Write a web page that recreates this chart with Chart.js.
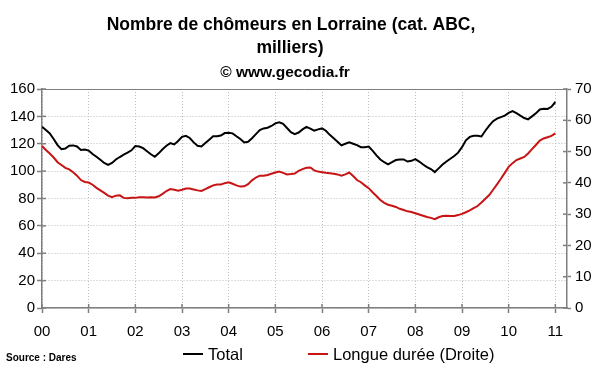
<!DOCTYPE html>
<html>
<head>
<meta charset="utf-8">
<script src="https://cdn.jsdelivr.net/npm/chart.js@4.4.0/dist/chart.umd.min.js"></script>
<style>
  html, body { margin: 0; padding: 0; background: #fff; }
  canvas { display: block; }
</style>
</head>
<body>
<canvas id="chart" width="600" height="372"></canvas>
<script>
// ===== DATA =====
const yearLabels = ["00", "01", "02", "03", "04", "05", "06", "07", "08", "09", "10", "11"];

// Total (milliers, axe gauche), mensuel janv. 2000 -> janv. 2011
const total = [
  132.4, 130, 127.5, 123.5, 119, 116, 116.5, 118.5, 118.8, 118, 115.5, 115.8,
  115, 112.5, 110.5, 108.3, 106, 104.5, 106, 108.5, 110.3, 112, 113.5, 115.2,
  118.3, 118, 116.8, 114.5, 112.3, 110.5, 113, 116, 118.5, 120.5, 119.5, 122,
  125, 125.8, 124.2, 121, 118.5, 118, 120.5, 123, 125.5, 125.5, 126, 127.8,
  128, 127.6, 125.5, 123.5, 121, 121.5, 124, 127, 130, 131.2, 131.7, 133,
  134.9, 135.6, 134.5, 131.5, 128.5, 127, 128.2, 130.5, 132.3, 131, 129.5, 130.5,
  131.2, 129.5, 126.5, 124, 121.5, 118.8, 120, 121, 120, 119, 117.5, 117.5,
  117.9, 115, 111.5, 108.5, 106.5, 105, 106.5, 108.1, 108.5, 108.5, 107, 107.5,
  108.8, 107, 104.8, 103, 101.5, 99.3, 102, 104.8, 107, 109, 111, 113.5,
  117.5, 122.5, 125, 125.8, 125.8, 125.3, 129.5, 133.2, 136.5, 138.3, 139.5, 140.5,
  142.5, 143.9, 142.3, 140.5, 138.8, 137.8, 140, 142.2, 145, 145.5, 145.4, 147,
  150.5
];

// Longue durée (milliers, axe droit)
const longueDuree = [
  51.8, 50.5, 49.4, 48.1, 46.6, 45.7, 44.8, 44.3, 43.4, 42.3, 40.9, 40.3,
  40.1, 39.4, 38.4, 37.6, 36.8, 35.9, 35.4, 35.9, 36.0, 35.2, 35.1, 35.2,
  35.2, 35.4, 35.4, 35.3, 35.4, 35.3, 35.7, 36.5, 37.4, 38.0, 37.8, 37.5,
  37.8, 38.2, 38.2, 37.9, 37.6, 37.4, 38.0, 38.6, 39.2, 39.5, 39.5, 39.9,
  40.2, 39.7, 39.2, 38.8, 38.9, 39.6, 40.8, 41.7, 42.3, 42.3, 42.5, 42.9,
  43.3, 43.6, 43.2, 42.7, 42.8, 43.0, 43.8, 44.4, 44.8, 44.9, 44.0, 43.6,
  43.4, 43.2, 43.1, 42.9, 42.7, 42.3, 42.7, 43.3, 42.2, 40.9, 40.2, 39.2,
  38.3, 37.0, 35.8, 34.5, 33.6, 33.0, 32.7, 32.3, 31.7, 31.3, 30.9, 30.7,
  30.3, 29.9, 29.5, 29.1, 28.8, 28.4, 29.0, 29.4, 29.5, 29.4, 29.4, 29.7,
  30.1, 30.6, 31.2, 31.9, 32.6, 33.7, 34.9, 36.1, 37.8, 39.5, 41.3, 43.2,
  45.1, 46.3, 47.3, 47.8, 48.3, 49.4, 50.8, 52.1, 53.5, 54.2, 54.6, 55.0,
  55.8
];

const titleLines = ["Nombre de chômeurs en Lorraine (cat. ABC,", "milliers)"];
const subtitleText = "© www.gecodia.fr";
const sourceText = "Source : Dares";
const seriesLabels = ["Total", "Longue durée (Droite)"];

const FONT = '"Liberation Sans", Arial, sans-serif';
const AXIS_COLOR = "#7f7f7f";
const GRID_COLOR = "#bdbdbd";

// ===== TEXTES + LEGENDE =====
const textPlugin = {
  id: "texts",
  afterDraw(chart) {
    const ctx = chart.ctx;
    const area = chart.chartArea;
    ctx.save();

    // cadre du haut
    ctx.strokeStyle = AXIS_COLOR;
    ctx.lineWidth = 1;
    ctx.beginPath();
    ctx.moveTo(area.left, area.top + 0.5);
    ctx.lineTo(area.right, area.top + 0.5);
    ctx.stroke();

    // petits traits vers l'intérieur (graduations en croix)
    ctx.lineWidth = 1.5;
    chart.scales.x.ticks.forEach(t => {
      const px = chart.scales.x.getPixelForValue(t.value);
      ctx.beginPath();
      ctx.moveTo(px, area.bottom);
      ctx.lineTo(px, area.bottom - 4);
      ctx.stroke();
    });
    chart.scales.y.ticks.forEach(t => {
      const py = chart.scales.y.getPixelForValue(t.value);
      ctx.beginPath();
      ctx.moveTo(area.left, py);
      ctx.lineTo(area.left + 4, py);
      ctx.stroke();
    });
    chart.scales.y1.ticks.forEach(t => {
      const py = chart.scales.y1.getPixelForValue(t.value);
      ctx.beginPath();
      ctx.moveTo(area.right, py);
      ctx.lineTo(area.right - 4, py);
      ctx.stroke();
    });

    ctx.fillStyle = "#000";
    ctx.textAlign = "center";
    ctx.textBaseline = "alphabetic";
    ctx.font = "bold 17.5px " + FONT;
    ctx.fillText(titleLines[0], 291, 30);
    ctx.fillText(titleLines[1], 290, 53);
    ctx.font = "bold 15.5px " + FONT;
    ctx.fillText(subtitleText, 285, 77);

    ctx.textAlign = "left";
    ctx.font = "bold 10px " + FONT;
    ctx.fillText(sourceText, 6, 361);

    // légende
    const legendX = [183, 308];
    ctx.font = "16.5px " + FONT;
    chart.data.datasets.forEach((ds, i) => {
      const x = legendX[i];
      ctx.strokeStyle = ds.borderColor;
      ctx.lineWidth = 2;
      ctx.beginPath();
      ctx.moveTo(x, 354);
      ctx.lineTo(x + 20, 354);
      ctx.stroke();
      ctx.fillStyle = "#000";
      ctx.fillText(ds.label, x + 25, 360);
    });
    ctx.restore();
  }
};

// ===== CHART =====
const ctx = document.getElementById("chart").getContext("2d");
new Chart(ctx, {
  type: "line",
  data: {
    datasets: [
      {
        label: seriesLabels[0],
        data: total.map((v, i) => ({ x: i, y: v })),
        borderColor: "#000000",
        borderWidth: 2,
        yAxisID: "y"
      },
      {
        label: seriesLabels[1],
        data: longueDuree.map((v, i) => ({ x: i, y: v })),
        borderColor: "#c81414",
        borderWidth: 2,
        yAxisID: "y1"
      }
    ]
  },
  options: {
    responsive: false,
    animation: false,
    devicePixelRatio: 1,
    layout: { padding: { top: 89, left: 0, right: 0, bottom: 0 } },
    elements: { point: { radius: 0 }, line: { tension: 0 } },
    plugins: {
      legend: { display: false },
      title: { display: false },
      tooltip: { enabled: false }
    },
    scales: {
      x: {
        type: "linear",
        min: 0,
        max: 135,
        ticks: {
          stepSize: 12,
          includeBounds: false,
          autoSkip: false,
          maxRotation: 0,
          padding: 10,
          color: "#000",
          font: { family: FONT, size: 15 },
          callback: v => yearLabels[v / 12]
        },
        grid: { color: GRID_COLOR, tickColor: AXIS_COLOR, tickLength: 5, tickWidth: 1.5 },
        border: { color: AXIS_COLOR, width: 1.5, dash: [1, 2] },
        afterFit: s => { s.height = 64; }
      },
      y: {
        position: "left",
        min: 0,
        max: 160,
        ticks: {
          stepSize: 20,
          padding: 2,
          color: "#000",
          font: { family: FONT, size: 15 }
        },
        grid: { color: GRID_COLOR, tickColor: AXIS_COLOR, tickLength: 5, tickWidth: 1.5 },
        border: { color: AXIS_COLOR, width: 1.5, dash: [1, 2] },
        afterFit: s => { s.width = 42; }
      },
      y1: {
        position: "right",
        min: 0,
        max: 70,
        ticks: {
          stepSize: 10,
          padding: 4,
          color: "#000",
          font: { family: FONT, size: 15 }
        },
        grid: { drawOnChartArea: false, tickColor: AXIS_COLOR, tickLength: 4, tickWidth: 1.5 },
        border: { color: AXIS_COLOR, width: 1.5 },
        afterFit: s => { s.width = 33; }
      }
    }
  },
  plugins: [textPlugin]
});
</script>
</body>
</html>
